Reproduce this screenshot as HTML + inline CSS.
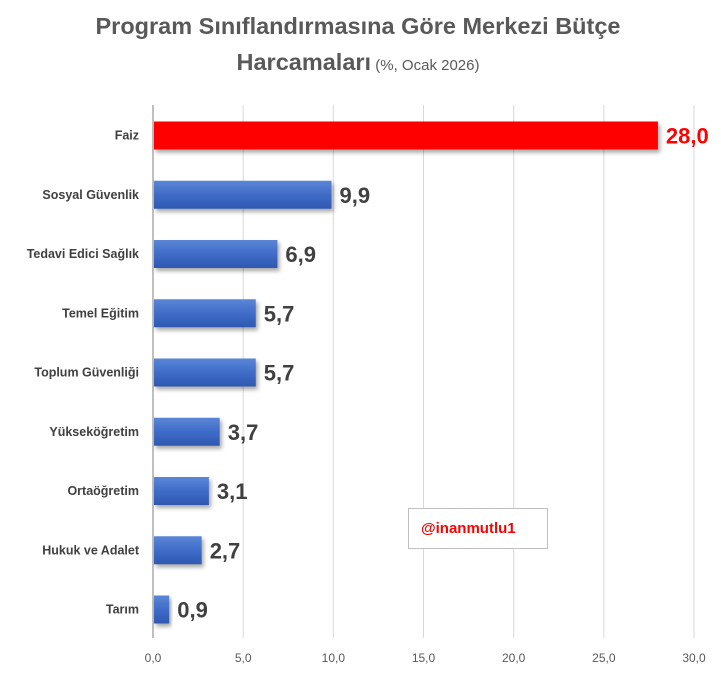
<!DOCTYPE html>
<html><head><meta charset="utf-8"><style>
body{margin:0;background:#fff;font-family:"Liberation Sans","DejaVu Sans",sans-serif}
</style></head><body>
<svg id="chart" width="721" height="668" xmlns="http://www.w3.org/2000/svg">
<defs>
<linearGradient id="bg" x1="0" y1="0" x2="0" y2="1">
<stop offset="0" stop-color="#5b86d6"/><stop offset="0.5" stop-color="#3f6cc8"/><stop offset="1" stop-color="#2f58b0"/>
</linearGradient>
<filter id="sh" x="-10%" y="-20%" width="130%" height="160%"><feDropShadow dx="2" dy="3" stdDeviation="2" flood-color="#000" flood-opacity="0.35"/></filter>
</defs>
<text x="358" y="34" text-anchor="middle" font-size="23.5" font-weight="bold" fill="#595959">Program Sınıflandırmasına Göre Merkezi Bütçe</text>
<text x="358" y="70" text-anchor="middle" fill="#595959"><tspan font-size="23.5" font-weight="bold">Harcamaları</tspan><tspan font-size="15"> (%, Ocak 2026)</tspan></text>
<g id="grid"></g><g id="bars"></g><g id="labels"></g>
<rect x="408.5" y="508.5" width="139" height="40" fill="#fff" stroke="#bfbfbf"/>
<text x="421" y="533" font-size="15" font-weight="bold" fill="#ff0000">@inanmutlu1</text>
</svg>
<script>
const categories=["Faiz","Sosyal Güvenlik","Tedavi Edici Sağlık","Temel Eğitim","Toplum Güvenliği","Yükseköğretim","Ortaöğretim","Hukuk ve Adalet","Tarım"];
const values=[28.0,9.9,6.9,5.7,5.7,3.7,3.1,2.7,0.9];
const ticks=[0,5,10,15,20,25,30];
const NS="http://www.w3.org/2000/svg";
const x=v=>153+v*(694-153)/30;
const yc=i=>135.5+i*59.25;
const mk=(t,a,p)=>{const e=document.createElementNS(NS,t);for(const k in a)e.setAttribute(k,a[k]);p.appendChild(e);return e;};
const g=document.getElementById('grid'),b=document.getElementById('bars'),l=document.getElementById('labels');
ticks.forEach(t=>{
 const ln=mk('line',{x1:x(t),x2:x(t),y1:105,y2:638,stroke:t===0?'#bfbfbf':'#d9d9d9','stroke-width':t===0?2:1},g);
 
 
 const tx=mk('text',{x:x(t),y:662,'text-anchor':'middle','font-size':12,fill:'#595959'},g);
 
 
 tx.textContent=t.toFixed(1).replace('.',',');
});
categories.forEach((c,i)=>{
 const v=values[i],y=yc(i);
 const r=mk('rect',{x:x(0)+1,y:y-14,width:x(v)-x(0)-1,height:28,fill:i===0?'#ff0000':'url(#bg)',filter:'url(#sh)'},b);
 
 
 const cl=mk('text',{x:139,y:y+4,'text-anchor':'end','font-size':12.5,'font-weight':'bold',fill:'#404040'},l);
 
 
 cl.textContent=c;
 const vl=mk('text',{x:x(v)+8,y:y+8,'font-size':22,'font-weight':'bold',fill:i===0?'#ff0000':'#404040'},l);
 
 
 vl.textContent=v.toFixed(1).replace('.',',');
});
</script>
</body></html>
